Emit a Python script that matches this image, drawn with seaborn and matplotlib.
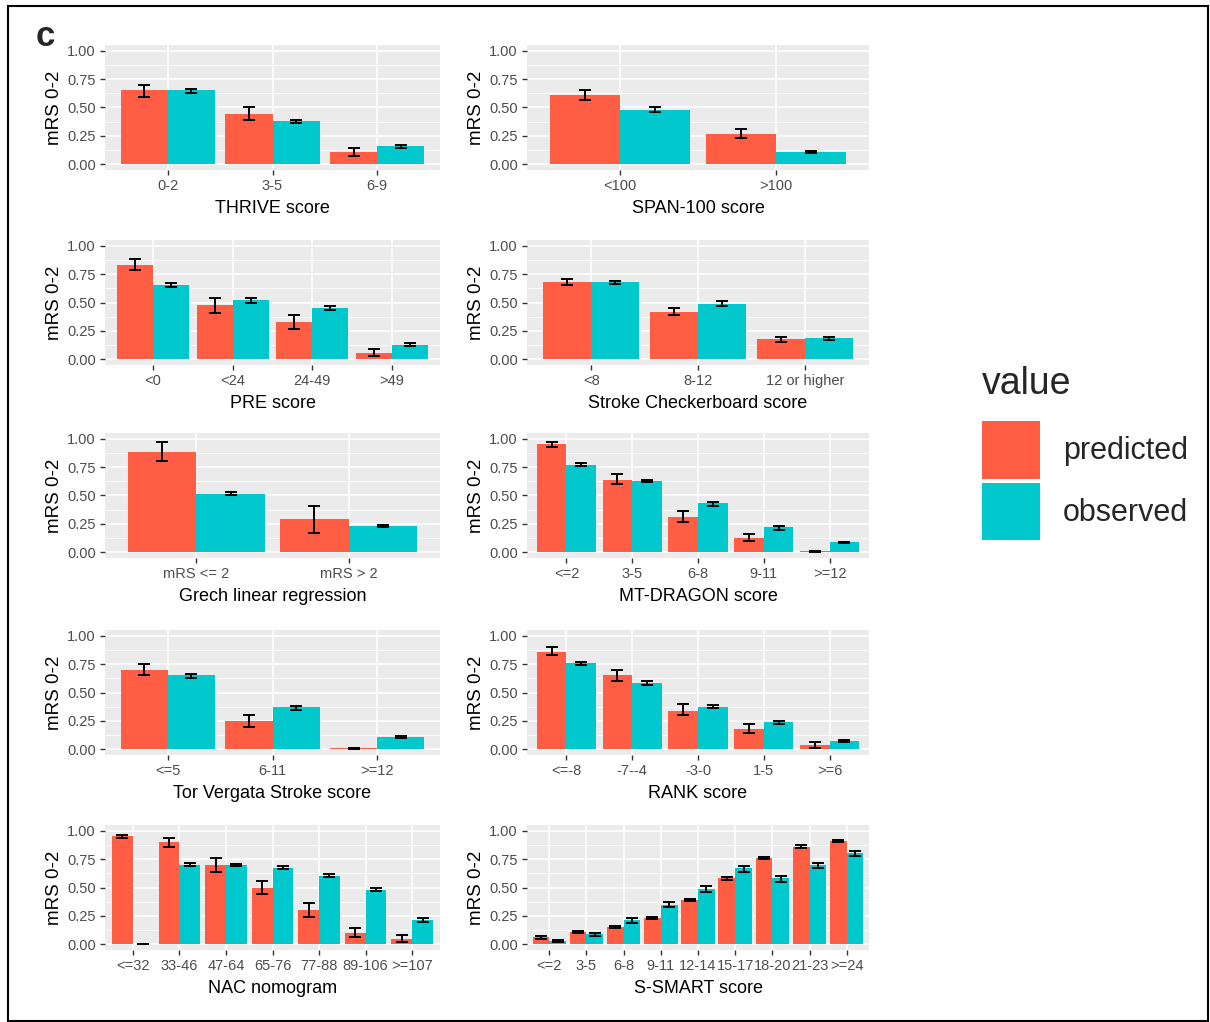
import pandas as pd
import matplotlib.pyplot as plt
import matplotlib.patches as mpatches
import seaborn as sns

# ---- data ----
thrive_cats = ["0-2", "3-5", "6-9"]
thrive_pred = [0.65, 0.44, 0.11]
thrive_pred_lo = [0.59, 0.39, 0.07]
thrive_pred_hi = [0.70, 0.50, 0.14]
thrive_obs = [0.65, 0.38, 0.16]
thrive_obs_lo = [0.63, 0.36, 0.14]
thrive_obs_hi = [0.66, 0.39, 0.17]

span_cats = ["<100", ">100"]
span_pred = [0.61, 0.27]
span_pred_lo = [0.57, 0.23]
span_pred_hi = [0.65, 0.31]
span_obs = [0.48, 0.11]
span_obs_lo = [0.46, 0.10]
span_obs_hi = [0.50, 0.12]

pre_cats = ["<0", "<24", "24-49", ">49"]
pre_pred = [0.83, 0.48, 0.33, 0.06]
pre_pred_lo = [0.79, 0.41, 0.27, 0.03]
pre_pred_hi = [0.88, 0.54, 0.39, 0.09]
pre_obs = [0.65, 0.52, 0.45, 0.13]
pre_obs_lo = [0.64, 0.50, 0.43, 0.12]
pre_obs_hi = [0.67, 0.54, 0.47, 0.14]

checker_cats = ["<8", "8-12", "12 or higher"]
checker_pred = [0.68, 0.42, 0.18]
checker_pred_lo = [0.65, 0.39, 0.15]
checker_pred_hi = [0.71, 0.45, 0.20]
checker_obs = [0.68, 0.49, 0.19]
checker_obs_lo = [0.66, 0.47, 0.17]
checker_obs_hi = [0.69, 0.51, 0.20]

grech_cats = ["mRS <= 2", "mRS > 2"]
grech_pred = [0.88, 0.29]
grech_pred_lo = [0.80, 0.17]
grech_pred_hi = [0.97, 0.41]
grech_obs = [0.51, 0.23]
grech_obs_lo = [0.50, 0.22]
grech_obs_hi = [0.53, 0.24]

dragon_cats = ["<=2", "3-5", "6-8", "9-11", ">=12"]
dragon_pred = [0.95, 0.64, 0.31, 0.13, 0.01]
dragon_pred_lo = [0.93, 0.60, 0.27, 0.10, 0.00]
dragon_pred_hi = [0.97, 0.69, 0.36, 0.16, 0.015]
dragon_obs = [0.77, 0.63, 0.43, 0.22, 0.09]
dragon_obs_lo = [0.76, 0.62, 0.41, 0.20, 0.08]
dragon_obs_hi = [0.79, 0.64, 0.44, 0.23, 0.095]

torv_cats = ["<=5", "6-11", ">=12"]
torv_pred = [0.70, 0.25, 0.01]
torv_pred_lo = [0.65, 0.20, 0.00]
torv_pred_hi = [0.75, 0.30, 0.015]
torv_obs = [0.65, 0.37, 0.11]
torv_obs_lo = [0.63, 0.35, 0.10]
torv_obs_hi = [0.66, 0.38, 0.12]

rank_cats = ["<=-8", "-7--4", "-3-0", "1-5", ">=6"]
rank_pred = [0.86, 0.65, 0.34, 0.18, 0.04]
rank_pred_lo = [0.83, 0.60, 0.30, 0.14, 0.01]
rank_pred_hi = [0.90, 0.70, 0.40, 0.22, 0.06]
rank_obs = [0.76, 0.58, 0.37, 0.24, 0.07]
rank_obs_lo = [0.74, 0.57, 0.36, 0.22, 0.06]
rank_obs_hi = [0.77, 0.60, 0.39, 0.25, 0.08]

nac_cats = ["<=32", "33-46", "47-64", "65-76", "77-88", "89-106", ">=107"]
nac_pred = [0.95, 0.90, 0.70, 0.50, 0.30, 0.10, 0.05]
nac_pred_lo = [0.94, 0.86, 0.64, 0.44, 0.24, 0.06, 0.02]
nac_pred_hi = [0.96, 0.94, 0.76, 0.56, 0.36, 0.14, 0.08]
nac_obs = [0.00, 0.70, 0.70, 0.67, 0.60, 0.48, 0.21]
nac_obs_lo = [0.00, 0.69, 0.69, 0.66, 0.59, 0.47, 0.20]
nac_obs_hi = [0.00, 0.72, 0.71, 0.69, 0.62, 0.50, 0.23]

ssmart_cats = ["<=2", "3-5", "6-8", "9-11", "12-14", "15-17", "18-20", "21-23", ">=24"]
ssmart_pred = [0.06, 0.11, 0.15, 0.23, 0.39, 0.58, 0.76, 0.86, 0.91]
ssmart_pred_lo = [0.05, 0.10, 0.14, 0.22, 0.38, 0.57, 0.75, 0.85, 0.90]
ssmart_pred_hi = [0.07, 0.12, 0.16, 0.24, 0.40, 0.59, 0.77, 0.87, 0.92]
ssmart_obs = [0.03, 0.09, 0.21, 0.35, 0.49, 0.67, 0.58, 0.70, 0.80]
ssmart_obs_lo = [0.02, 0.07, 0.19, 0.33, 0.46, 0.64, 0.55, 0.67, 0.78]
ssmart_obs_hi = [0.04, 0.10, 0.23, 0.37, 0.51, 0.69, 0.60, 0.72, 0.82]

panels = [
    ("THRIVE score", thrive_cats, thrive_pred, thrive_pred_lo, thrive_pred_hi, thrive_obs, thrive_obs_lo, thrive_obs_hi),
    ("SPAN-100 score", span_cats, span_pred, span_pred_lo, span_pred_hi, span_obs, span_obs_lo, span_obs_hi),
    ("PRE score", pre_cats, pre_pred, pre_pred_lo, pre_pred_hi, pre_obs, pre_obs_lo, pre_obs_hi),
    ("Stroke Checkerboard score", checker_cats, checker_pred, checker_pred_lo, checker_pred_hi, checker_obs, checker_obs_lo, checker_obs_hi),
    ("Grech linear regression", grech_cats, grech_pred, grech_pred_lo, grech_pred_hi, grech_obs, grech_obs_lo, grech_obs_hi),
    ("MT-DRAGON score", dragon_cats, dragon_pred, dragon_pred_lo, dragon_pred_hi, dragon_obs, dragon_obs_lo, dragon_obs_hi),
    ("Tor Vergata Stroke score", torv_cats, torv_pred, torv_pred_lo, torv_pred_hi, torv_obs, torv_obs_lo, torv_obs_hi),
    ("RANK score", rank_cats, rank_pred, rank_pred_lo, rank_pred_hi, rank_obs, rank_obs_lo, rank_obs_hi),
    ("NAC nomogram", nac_cats, nac_pred, nac_pred_lo, nac_pred_hi, nac_obs, nac_obs_lo, nac_obs_hi),
    ("S-SMART score", ssmart_cats, ssmart_pred, ssmart_pred_lo, ssmart_pred_hi, ssmart_obs, ssmart_obs_lo, ssmart_obs_hi),
]

colors = ["#FF5E45", "#00C8CC"]

sns.set_theme(style="darkgrid")
plt.rcParams["font.family"] = ["Liberation Sans", "DejaVu Sans"]

W, H = 1210, 1022
fig = plt.figure(figsize=(W / 100, H / 100), dpi=100)

col_x = [(105, 440), (527, 869)]
row_y = [(45, 170), (240, 365), (433, 558), (630, 755), (825, 950)]

for i, (label, cats, pred, plo, phi, obs, olo, ohi) in enumerate(panels):
    r, c = divmod(i, 2)
    x0, x1 = col_x[c]
    y0, y1 = row_y[r]
    ax = fig.add_axes([x0 / W, 1 - y1 / H, (x1 - x0) / W, (y1 - y0) / H])
    n = len(cats)
    df = pd.DataFrame({
        "cat": cats + cats,
        "value": ["predicted"] * n + ["observed"] * n,
        "mrs": pred + obs,
    })
    sns.barplot(data=df, x="cat", y="mrs", hue="value", palette=colors,
                width=0.9, gap=0, errorbar=None, saturation=1,
                linewidth=0, legend=False, ax=ax)
    for cont, lo, hi in zip(ax.containers, [plo, olo], [phi, ohi]):
        xs = [b.get_x() + b.get_width() / 2 for b in cont]
        ys = [(a + b) / 2 for a, b in zip(lo, hi)]
        err = [[y - a for y, a in zip(ys, lo)], [b - y for y, b in zip(ys, hi)]]
        ax.errorbar(xs, ys, yerr=err, fmt="none", ecolor="black",
                    elinewidth=1.4, capsize=4.2, capthick=1.4, zorder=3)

    ax.set_facecolor("#EBEBEB")
    ax.set_xlim(-0.6, n - 1 + 0.6)
    ax.set_ylim(-0.05, 1.05)
    ax.set_yticks([0, 0.25, 0.5, 0.75, 1.0])
    ax.set_yticklabels(["0.00", "0.25", "0.50", "0.75", "1.00"])
    ax.set_yticks([0.125, 0.375, 0.625, 0.875], minor=True)
    ax.grid(which="major", color="white", linewidth=1.1)
    ax.grid(which="minor", axis="y", color="white", linewidth=0.55)
    ax.set_axisbelow(True)
    for s in ax.spines.values():
        s.set_visible(False)
    ax.tick_params(which="major", length=3.5, width=1, color="#333333",
                   labelcolor="#4D4D4D", labelsize=10.5, pad=3,
                   bottom=True, left=True)
    ax.tick_params(which="minor", length=0)
    ax.set_xlabel(label, fontsize=13, color="black", labelpad=5)
    ax.set_ylabel("mRS 0-2", fontsize=13.5, color="black", labelpad=3)

handles = [mpatches.Patch(facecolor=colors[0], edgecolor="none", label="predicted"),
           mpatches.Patch(facecolor=colors[1], edgecolor="none", label="observed")]
leg = fig.legend(handles=handles, title="value", loc="upper left",
                 bbox_to_anchor=(982 / W, 1 - 366 / H), frameon=False,
                 fontsize=22, title_fontsize=27, handlelength=1.9,
                 handleheight=2.5, labelspacing=0.15, handletextpad=0.75,
                 borderaxespad=0, borderpad=0)
leg._legend_box.align = "left"
leg._legend_box.sep = 14

fig.text(36 / W, 1 - 36 / H, "c", fontsize=25, fontweight="bold",
         va="center", ha="left")

fig.patches.append(mpatches.Rectangle((8 / W, 1 / H), 1 - 10 / W, 1 - 7 / H,
                                      transform=fig.transFigure, fill=False,
                                      edgecolor="black", linewidth=1.5))

fig.savefig("out.png", dpi=100, facecolor="white")
